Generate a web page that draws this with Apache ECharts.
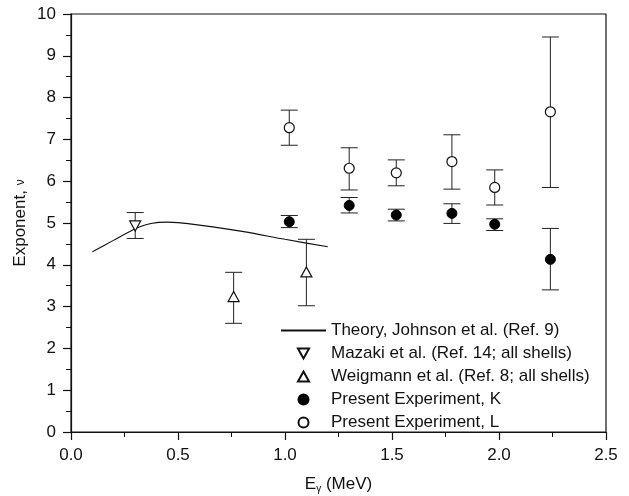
<!DOCTYPE html>
<html>
<head>
<meta charset="utf-8">
<script src="https://cdn.jsdelivr.net/npm/echarts@6/dist/echarts.min.js"></script>
<style>html,body{margin:0;padding:0;background:#fff}#c{width:629px;height:496px}</style>
</head>
<body>
<div id="c"></div>
<script>
// Theory, Johnson et al. (Ref. 9): [E, nu]
const theoryE  = [0.10, 0.20, 0.30, 0.35, 0.40, 0.45, 0.50, 0.60, 0.80, 1.00, 1.20];
const theoryNu = [4.31, 4.59, 4.86, 4.96, 5.01, 5.02, 5.01, 4.95, 4.80, 4.61, 4.43];

// Mazaki et al.
const mazE = [0.30];
const mazNu = [4.93];
const mazLo = [4.63];
const mazHi = [5.25];

// Weigmann et al.
const weiE = [0.76, 1.10];
const weiNu = [3.24, 3.83];
const weiLo = [2.60, 3.02];
const weiHi = [3.82, 4.61];

// Present Experiment, K
const kE  = [1.02, 1.30, 1.52, 1.78, 1.98, 2.24];
const kNu = [5.03, 5.42, 5.19, 5.23, 4.97, 4.13];
const kLo = [4.89, 5.24, 5.05, 4.99, 4.82, 3.40];
const kHi = [5.18, 5.61, 5.33, 5.46, 5.10, 4.87];

// Present Experiment, L
const lE  = [1.02, 1.30, 1.52, 1.78, 1.98, 2.24];
const lNu = [7.28, 6.31, 6.20, 6.47, 5.85, 7.66];
const lLo = [6.86, 5.79, 5.89, 5.81, 5.43, 5.85];
const lHi = [7.70, 6.80, 6.51, 7.11, 6.27, 9.45];

const xTicks = [0, 0.5, 1.0, 1.5, 2.0, 2.5];
const yTicks = [0,1,2,3,4,5,6,7,8,9,10];

const seriesNames = [
  'Theory, Johnson et al. (Ref. 9)',
  'Mazaki et al. (Ref. 14; all shells)',
  'Weigmann et al. (Ref. 8; all shells)',
  'Present Experiment, K',
  'Present Experiment, L'
];

const FONT = 'Liberation Sans, Arial, sans-serif';
const pairs = (xs, ys) => xs.map((x, i) => [x, ys[i]]);
const errData = (xs, lo, hi) => xs.map((x, i) => [x, lo[i], hi[i]]);

function errSeries(name, data) {
  return {
    type: 'custom', name: name, silent: true, z: 2,
    data: data,
    renderItem: function (params, api) {
      const x = api.value(0);
      const lo = api.coord([x, api.value(1)]);
      const hi = api.coord([x, api.value(2)]);
      const w = 8.5;
      const st = { stroke: '#222', lineWidth: 1 };
      return {
        type: 'group',
        children: [
          { type: 'line', shape: { x1: lo[0], y1: lo[1], x2: hi[0], y2: hi[1] }, style: st },
          { type: 'line', shape: { x1: lo[0] - w, y1: lo[1], x2: lo[0] + w, y2: lo[1] }, style: st },
          { type: 'line', shape: { x1: hi[0] - w, y1: hi[1], x2: hi[0] + w, y2: hi[1] }, style: st }
        ]
      };
    }
  };
}

const downTri = 'path://M0,0 L10,0 L5,9 Z';
const upTri = 'path://M5,0 L10,9 L0,9 Z';

const chart = echarts.init(document.getElementById('c'), null, { renderer: 'canvas' });
chart.setOption({
  animation: false,
  backgroundColor: '#fff',
  textStyle: { fontFamily: FONT },
  grid: {
    left: 71, right: 23, top: 14, bottom: 64, containLabel: false, outerBoundsMode: 'none',
    show: true, borderColor: '#111', borderWidth: 1.2, backgroundColor: 'transparent'
  },
  xAxis: {
    type: 'value', min: 0, max: 2.5, interval: 0.5,
    axisLine: { show: true, lineStyle: { color: '#111', width: 1.2 } },
    axisTick: { show: true, inside: false, length: 8, lineStyle: { color: '#111', width: 1.2 } },
    minorTick: { show: true, splitNumber: 2, length: 5, lineStyle: { color: '#111', width: 1 } },
    splitLine: { show: false },
    axisLabel: { color: '#111', fontSize: 17, fontFamily: FONT, margin: 15, formatter: v => v.toFixed(1) },
    name: '{a|E}{b|γ}{a| (MeV)}', nameLocation: 'middle', nameGap: 42, nameMoveOverlap: false,
    nameTextStyle: {
      rich: {
        a: { fontSize: 17, fontFamily: FONT, color: '#111' },
        b: { fontSize: 10, fontFamily: FONT, color: '#111', padding: [10, 0, 0, 0] }
      }
    }
  },
  yAxis: {
    type: 'value', min: 0, max: 10, interval: 1,
    axisLine: { show: true, lineStyle: { color: '#111', width: 1.2 } },
    axisTick: { show: true, inside: false, length: 8, lineStyle: { color: '#111', width: 1.2 } },
    minorTick: { show: true, splitNumber: 2, length: 5, lineStyle: { color: '#111', width: 1 } },
    splitLine: { show: false },
    axisLabel: { color: '#111', fontSize: 17, fontFamily: FONT, margin: 15 },
    name: 'Exponent, {s|ν}', nameLocation: 'middle', nameGap: 42, nameMoveOverlap: false,
    nameTextStyle: { fontSize: 17, fontFamily: FONT, color: '#111', rich: { s: { fontSize: 12, fontFamily: FONT, color: '#111' } } }
  },
  legend: {
    orient: 'vertical', left: 275, top: 317,
    itemWidth: 45, itemHeight: 10, itemGap: 6,
    textStyle: { fontSize: 17, fontFamily: FONT, color: '#111' },
    data: [
      { name: seriesNames[0], itemStyle: { color: 'transparent', borderColor: 'transparent', borderWidth: 0 } },
      seriesNames[1], seriesNames[2], seriesNames[3], seriesNames[4]
    ]
  },
  series: [
    {
      type: 'line', name: seriesNames[0], data: pairs(theoryE, theoryNu),
      smooth: 0.3, symbol: 'none', lineStyle: { color: '#111', width: 1.1 }, itemStyle: { color: '#111' }, z: 1
    },
    errSeries('errMaz', errData(mazE, mazLo, mazHi)),
    errSeries('errWei', errData(weiE, weiLo, weiHi)),
    errSeries('errK', errData(kE, kLo, kHi)),
    errSeries('errL', errData(lE, lLo, lHi)),
    {
      type: 'scatter', name: seriesNames[1], data: pairs(mazE, mazNu), symbol: downTri, symbolSize: [11, 10],
      itemStyle: { color: '#fff', borderColor: '#111', borderWidth: 1.2, opacity: 1 }, z: 5
    },
    {
      type: 'scatter', name: seriesNames[2], data: pairs(weiE, weiNu), symbol: upTri, symbolSize: [11, 10],
      itemStyle: { color: '#fff', borderColor: '#111', borderWidth: 1.2, opacity: 1 }, z: 5
    },
    {
      type: 'scatter', name: seriesNames[3], data: pairs(kE, kNu), symbol: 'circle', symbolSize: 10,
      itemStyle: { color: '#000', borderColor: '#000', borderWidth: 1, opacity: 1 }, z: 5
    },
    {
      type: 'scatter', name: seriesNames[4], data: pairs(lE, lNu), symbol: 'circle', symbolSize: 10,
      itemStyle: { color: '#fff', borderColor: '#111', borderWidth: 1.2, opacity: 1 }, z: 5
    }
  ]
});
</script>
</body>
</html>
